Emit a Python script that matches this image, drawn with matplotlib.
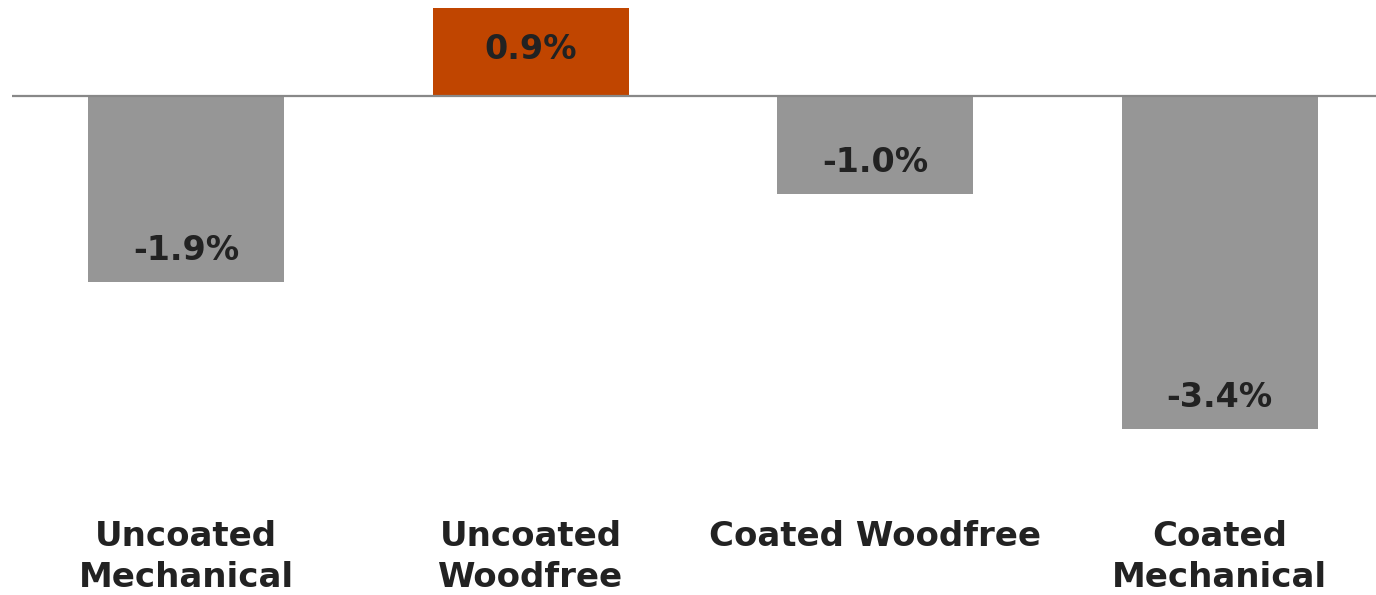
import matplotlib
matplotlib.use("Agg")
import matplotlib.pyplot as plt

categories = ["Uncoated\nMechanical", "Uncoated\nWoodfree", "Coated Woodfree", "Coated\nMechanical"]
values = [-1.9, 0.9, -1.0, -3.4]
labels = ["-1.9%", "0.9%", "-1.0%", "-3.4%"]
colors = ["#969696", "#C04500", "#969696", "#969696"]

fig = plt.figure(figsize=(13.76, 5.95), dpi=100)
# axes placed in pixels: left 12, top 0, bottom at 470
ax = fig.add_axes([12 / 1376, 125 / 595, 1364 / 1376, 470 / 595])

x = list(range(len(categories)))
ax.bar(x, values, width=0.569, color=colors, zorder=2)
ax.axhline(0, color="#888888", lw=1.6, zorder=3)

for i, v in enumerate(values):
    off = 32 if v < 0 else -42
    ax.annotate(labels[i], (i, v), xytext=(0, off), textcoords="offset pixels",
                ha="center", va="center", fontsize=24, fontweight="bold",
                color="#222222", family="DejaVu Sans")

ax.set_xlim(-0.505, 3.454)
ax.set_ylim(-3.816, 0.98)
ax.set_xticks(x)
ax.set_xticklabels(categories, fontsize=24.5, fontweight="bold", color="#222222",
                   linespacing=1.3)
ax.tick_params(axis="x", length=0, pad=36)
ax.set_yticks([])
for s in ax.spines.values():
    s.set_visible(False)

fig.savefig("out.png", dpi=100)
